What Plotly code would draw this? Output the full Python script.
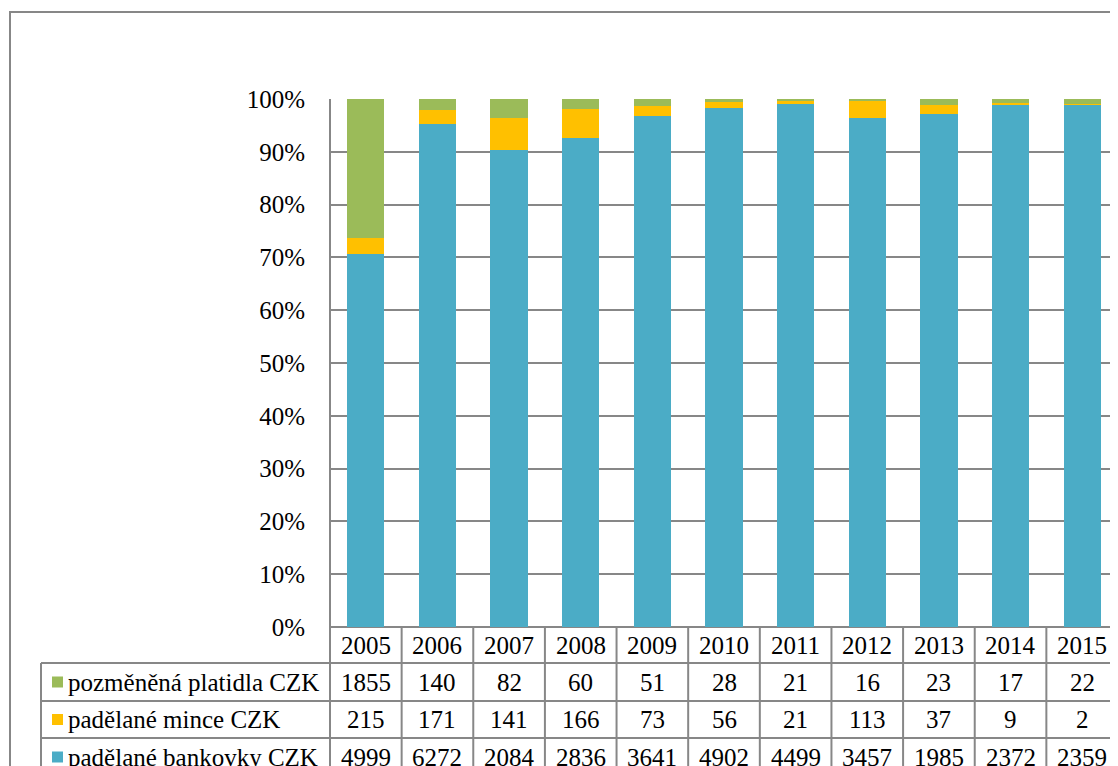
import plotly.graph_objects as go

years = ["2005", "2006", "2007", "2008", "2009", "2010", "2011", "2012", "2013", "2014", "2015"]
pozmenena = [1855, 140, 82, 60, 51, 28, 21, 16, 23, 17, 22]
mince = [215, 171, 141, 166, 73, 56, 21, 113, 37, 9, 2]
bankovky = [4999, 6272, 2084, 2836, 3641, 4902, 4499, 3457, 1985, 2372, 2359]

names = ["pozměněná platidla CZK", "padělané mince CZK", "padělané bankovky CZK"]
colors = ["#9BBB59", "#FFC000", "#4BACC6"]
rows = [pozmenena, mince, bankovky]

OFF = 8  # page body margin
W, H = 1118 - OFF, 766 - OFF
L, T, B = 330, 99, 627  # plot area edges in reference-page pixels
PW, PH = 1118 - L, B - T
FONT = "Liberation Serif, Times New Roman, DejaVu Serif, serif"
FS = 25
GRID = "#878787"


def px(xp):
    return (xp - L) / PW


def py(yp):
    return (B - yp) / PH


fig = go.Figure()
# stacked from bottom: bankovky, mince, pozmenena
for vals, name, col in zip(rows[::-1], names[::-1], colors[::-1]):
    fig.add_trace(go.Bar(x=years, y=vals, name=name, marker=dict(color=col, line=dict(width=0)),
                         showlegend=False))

shapes = []
annotations = []

# outer chart frame
shapes.append(dict(type="rect", xref="paper", yref="paper", x0=px(10), x1=px(1140), y0=py(800), y1=py(12),
                   line=dict(color=GRID, width=2), fillcolor="rgba(0,0,0,0)", layer="below"))

# table row borders
for yl in [663, 701, 738, 776]:
    shapes.append(dict(type="line", xref="paper", yref="paper", x0=px(41), x1=1.0, y0=py(yl), y1=py(yl),
                       line=dict(color=GRID, width=2)))
# vertical borders between years in the table
for i in range(len(years) + 1):
    shapes.append(dict(type="line", xref="x", yref="paper", x0=i - 0.5, x1=i - 0.5, y0=py(627), y1=py(776),
                       line=dict(color=GRID, width=2)))
# left axis line
shapes.append(dict(type="line", xref="paper", yref="paper", x0=0, x1=0, y0=py(776), y1=1,
                   line=dict(color=GRID, width=2)))
# legend column left border
shapes.append(dict(type="line", xref="paper", yref="paper", x0=px(41), x1=px(41), y0=py(663), y1=py(776),
                   line=dict(color=GRID, width=2)))

# header: years
for i, yr in enumerate(years):
    annotations.append(dict(x=i, y=py(645), xref="x", yref="paper", text=yr, showarrow=False,
                            font=dict(family=FONT, size=FS, color="black"), xanchor="center", yanchor="middle"))

row_centers = [682, 719.5, 757]
for r, (vals, name, col) in enumerate(zip(rows, names, colors)):
    yc = row_centers[r]
    for i, v in enumerate(vals):
        annotations.append(dict(x=i, y=py(yc), xref="x", yref="paper", text=str(v), showarrow=False,
                                font=dict(family=FONT, size=FS, color="black"),
                                xanchor="center", yanchor="middle"))
    annotations.append(dict(x=px(66), y=py(yc), xref="paper", yref="paper", text=name, showarrow=False,
                            font=dict(family=FONT, size=FS, color="black"),
                            xanchor="left", yanchor="middle"))
    shapes.append(dict(type="rect", xref="paper", yref="paper", x0=px(52), x1=px(63),
                       y0=py(yc + 5.5), y1=py(yc - 5.5), fillcolor=col, line=dict(width=0)))

fig.update_layout(
    width=W, height=H,
    margin=dict(l=L - OFF, r=0, t=T - OFF, b=766 - B, pad=0),
    barmode="stack", barnorm="percent", bargap=0.48,
    plot_bgcolor="white", paper_bgcolor="white",
    font=dict(family=FONT, size=FS, color="black"),
    xaxis=dict(type="category", range=[-0.5, 10.5], showticklabels=False, showgrid=False,
               zeroline=False, showline=False, ticks=""),
    yaxis=dict(range=[0, 100], dtick=10, ticksuffix="%", showgrid=True, gridcolor=GRID, gridwidth=2,
               zeroline=True, zerolinecolor=GRID, zerolinewidth=2, showline=False,
               ticklabelstandoff=24, tickfont=dict(family=FONT, size=FS, color="black")),
    shapes=shapes,
    annotations=annotations,
)

fig.write_html("out.html")
